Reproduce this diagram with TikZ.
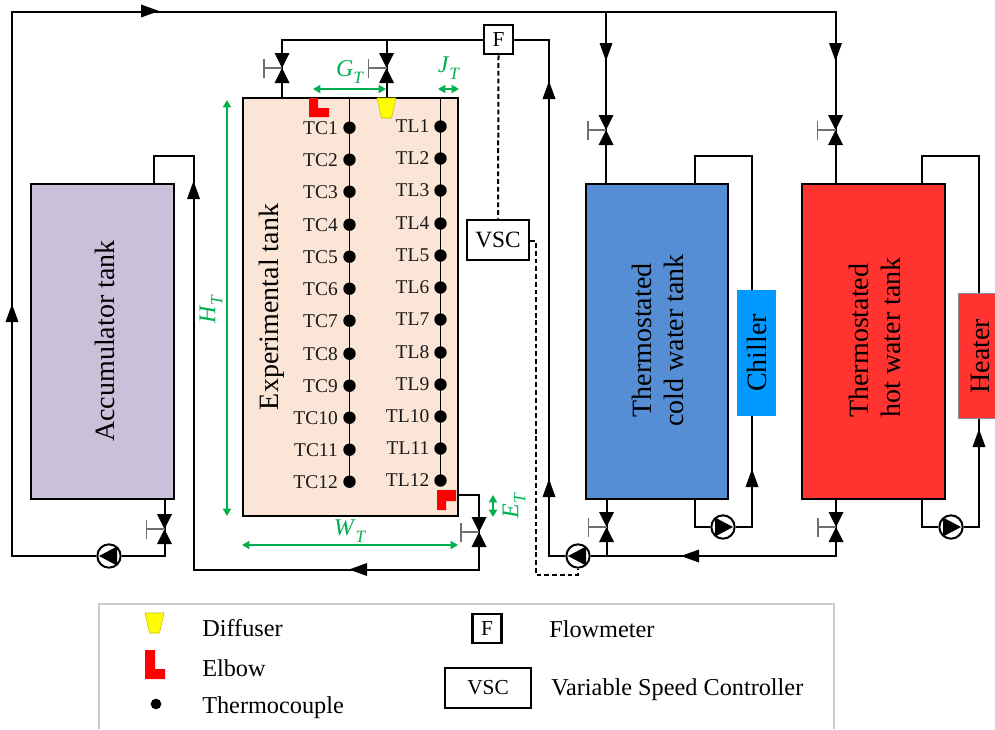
\documentclass[tikz,border=0pt]{standalone}
\usepackage{fontspec}
\setmainfont{Liberation Serif}
\usetikzlibrary{arrows.meta,backgrounds}
\definecolor{grn}{HTML}{00B050}
\definecolor{accf}{HTML}{CBC0DA}
\definecolor{expf}{HTML}{FBE5D6}
\definecolor{coldf}{HTML}{558ED5}
\definecolor{hotf}{HTML}{FF3330}
\definecolor{chilf}{HTML}{0099FF}
\definecolor{handle}{HTML}{707070}
\definecolor{elbowf}{HTML}{FF0000}
\definecolor{difff}{HTML}{FFFF00}
\newcommand{\subT}[1]{\textit{#1}\raisebox{-.3em}{\fontsize{.72em}{1em}\selectfont\textit{T}}}
\tikzset{
  x=.75pt,y=-.75pt,
  pipe/.style={draw=black,line width=1.5pt},
  tank/.style={draw=black,line width=2.1pt,inner sep=0pt,align=center,font=\fontsize{21}{24}\selectfont},
  unit/.style={draw=none,inner sep=0pt,font=\fontsize{21}{24}\selectfont},
  tanklab/.style={inner sep=0pt,rotate=90,font=\fontsize{21}{24}\selectfont},
  box/.style={draw=black,fill=white,line width=2.1pt,inner sep=0pt,font=\fontsize{16}{18}\selectfont},
  lab/.style={inner sep=0pt,font=\fontsize{14.6}{16}\selectfont,anchor=east,text=black!90},
  legtext/.style={inner sep=0pt,font=\fontsize{18.2}{20}\selectfont,anchor=base west},
  dim/.style={draw=grn,line width=1.3pt,{Triangle[width=6pt,length=5.5pt]}-{Triangle[width=6pt,length=5.5pt]}},
  dimtext/.style={inner sep=0pt,text=grn,font=\fontsize{18}{20}\selectfont},
  tdot/.style={circle,fill=black,minimum size=9.3pt,inner sep=0pt},
  pumpn/.style={circle,draw=black,fill=white,line width=1.5pt,minimum size=17.5pt,inner sep=0pt},
  ctrl/.style={draw=black,line width=1.5pt,dash pattern=on 3.6pt off 2.2pt},
  flow/.pic={\fill[black] (0,-9) -- (6.5,9) -- (-6.5,9) -- cycle;},
  pumptri/.pic={\fill[black] (-10,0) -- (8,-9.5) -- (8,9.5) -- cycle;},
  valve/.pic={
    \fill[black] (-7.5,-15) -- (7.5,-15) -- (0,0) -- cycle;
    \fill[black] (-7.5,15) -- (7.5,15) -- (0,0) -- cycle;
    \draw[handle,line width=.9pt] (0,0) -- (-18,0);
    \draw[handle,line width=.9pt] (-18,-9.5) -- (-18,9.5);
  },
  diffshape/.pic={\fill[difff,draw=black!25!difff,line width=.4pt] (-9.5,-10) -- (9.5,-10) -- (5,10) -- (-5,10) -- cycle;},
}
\begin{document}
\begin{tikzpicture}
\path[use as bounding box] (0,0) rectangle (995,729);
% tanks
\node[tank,fill=accf,minimum width=107.25pt,minimum height=236.25pt] (acc) at (102.5,341.5) {};
\node[tanklab] (acclab) at (105,341) {Accumulator tank};
\node[tank,fill=expf,minimum width=161.25pt,minimum height=313.5pt] (exp) at (350.5,307) {};
\node[tanklab] (explab) at (272,307) {Experimental tank};
\node[tank,fill=coldf,minimum width=106.5pt,minimum height=236.25pt] (cold) at (657,341.5) {};
\node[tanklab,align=center] (coldlab) at (658,340.5) {Thermostated\\cold water tank};
\node[tank,fill=hotf,minimum width=107.25pt,minimum height=236.25pt] (hot) at (873.5,341.5) {};
\node[tanklab,align=left] (hotlab) at (874.5,337.5) {Thermostated\\hot water tank};
\node[unit,fill=chilf,minimum width=29.25pt,minimum height=94.5pt] (chil) at (756.5,353) {\rotatebox{90}{Chiller}};
\path[fill=hotf,draw=black!45] (958,293) rectangle (996,418);
\node[tanklab] (heatlab) at (980,356) {Heater};
% boxes
\node[box,minimum size=21.75pt] (F) at (498.5,39.5) {F};
\node[box,minimum width=46.5pt,minimum height=30pt,font=\fontsize{17.5}{20}\selectfont] (VSC) at (498,240) {VSC};
% valves, as named points
\coordinate (vacc) at (164.5,529);
\coordinate (vexa) at (282,68);
\coordinate (vexb) at (386.5,68);
\coordinate (vexo) at (479,532);
\coordinate (vcin) at (606,130);
\coordinate (vcout) at (606.5,527);
\coordinate (vhin) at (835.5,130);
\coordinate (vhout) at (836,527);
% pumps
\node[pumpn] (pacc) at (109,556) {};
\node[pumpn] (pmain) at (578,556) {};
\node[pumpn] (pcold) at (723,527) {};
\node[pumpn] (phot) at (951,527) {};
% junction points
\coordinate (tl) at (12,12);
\coordinate (bl) at (12,556);
\coordinate (tr) at (835.5,12);
\coordinate (jc) at (606,12);
\coordinate (ret) at (549,556);
\coordinate (jret) at (193.5,569.5);
\coordinate (jtop) at (282,39.5);
\coordinate (dash) at (536,575);
\begin{pgfonlayer}{background}
  \draw[pipe] (vacc) |- (pacc) -- (bl) -- (tl) -- (tr) -- (vhin);
  \draw[pipe] (acc.south -| vacc) -- (vacc);
  \draw[pipe] (jc) -- (vcin) -- (cold.north -| vcin);
  \draw[pipe] (vhin) -- (hot.north -| vhin);
  \draw[pipe] (154,184) |- (193.5,156) -- (jret) -| (vexo);
  \draw[pipe] (vexo) -- (479,495) -- (exp.east |- 0,495);
  \draw[pipe] (exp.north -| vexa) -- (vexa) -- (jtop) -- (F.west);
  \draw[pipe] (exp.north -| vexb) -- (vexb) -- (386.5,39.5);
  \draw[pipe] (F.east) -- (549,39.5) -- (ret) -- (pmain.west);
  \draw[pipe] (pmain.east) -- (836,556) -- (vhout) -- (hot.south -| vhout);
  \draw[pipe] (606.5,556) -- (vcout) -- (cold.south -| vcout);
  \draw[pipe] (695,499) |- (pcold.west);
  \draw[pipe] (pcold.east) -- (752,527) -- (chil.south -| 752,0);
  \draw[pipe] (695,184) |- (752,156) -- (chil.north -| 752,0);
  \draw[pipe] (922,499) |- (phot.west);
  \draw[pipe] (phot.east) -- (979,527) -- (979,418);
  \draw[pipe] (922,184) |- (979,156) -- (979,293);
  \draw[ctrl] (F.south) -- (VSC.north);
  \draw[ctrl] (VSC.east |- 0,241) -- (536,241) -- (dash) -| (pmain.south);
\end{pgfonlayer}
% symbols
\pic at (vacc) {valve}; \pic at (vexa) {valve}; \pic at (vexb) {valve}; \pic at (vexo) {valve};
\pic at (vcin) {valve}; \pic at (vcout) {valve}; \pic at (vhin) {valve}; \pic at (vhout) {valve};
\pic at (pacc) {pumptri}; \pic at (pmain) {pumptri};
\pic[rotate=180] at (pcold) {pumptri}; \pic[rotate=180] at (phot) {pumptri};
\pic[rotate=-90] at (150,11) {flow};
\pic at (12,313) {flow};
\pic at (193.5,190) {flow};
\pic[rotate=90] at (358,569.5) {flow};
\pic at (549,90) {flow};
\pic at (549,488) {flow};
\pic[rotate=90] at (690,556) {flow};
\pic[rotate=180] at (606,52) {flow};
\pic[rotate=180] at (835.5,52) {flow};
\pic at (752,478) {flow};
\pic at (979,438) {flow};
% sensor lines
\draw[black,line width=.8pt] (349.5,98) -- (349.5,481);
\draw[black,line width=.8pt] (440.5,98) -- (440.5,481);
\foreach \n/\y in {1/127,2/159,3/191,4/224,5/256,6/288,7/320,8/353,9/385,10/417,11/449,12/481}{
  \node[tdot] (tc\n) at (349.5,\y+.7) {};
  \node[tdot] (tl\n) at (440.5,\y-.5) {};
  \node[lab] (tcl\n) at (338,\y+.7) {TC\n};
  \node[lab] (tll\n) at (429.5,\y-.5) {TL\n};
}
% elbows and diffuser
\fill[elbowf] (309,98) -- (318,98) -- (318,108) -- (329,108) -- (329,117) -- (309,117) -- cycle;
\fill[elbowf] (437,490) -- (456,490) -- (456,501) -- (446,501) -- (446,510) -- (437,510) -- cycle;
\pic at (386.5,108) {diffshape};
% dimensions
\coordinate (g1) at (313,89); \coordinate (g2) at (386,89);
\coordinate (j1) at (438,89); \coordinate (j2) at (459,89);
\coordinate (h1) at (227,100); \coordinate (h2) at (227,516);
\coordinate (w1) at (242,545); \coordinate (w2) at (458,545);
\coordinate (e1) at (493,495); \coordinate (e2) at (493,517);
\draw[dim] (g1) -- (g2);
\draw[dim] (j1) -- (j2);
\draw[dim] (h1) -- (h2);
\draw[dim] (w1) -- (w2);
\draw[dim] (e1) -- (e2);
\node[dimtext] (gt) at (350,72) {\subT{G}};
\node[dimtext] (jt) at (449,68) {\subT{J}};
\node[dimtext] (wt) at (350,531) {\subT{W}};
\node[dimtext,rotate=90] (ht) at (211,309) {\subT{H}};
\node[dimtext,rotate=90] (et) at (514,506) {\subT{E}};
% legend
\draw[black!20,line width=.9pt] (99,729) -- (99,604) -- (834,604) -- (834,729);
\pic at (154.5,623) {diffshape};
\fill[elbowf] (145,650) -- (155,650) -- (155,669) -- (165,669) -- (165,679) -- (145,679) -- cycle;
\node[tdot,minimum size=8pt] (legdot) at (156,704) {};
\node[legtext] (ld) at (202,636) {Diffuser};
\node[legtext] (le) at (202,676) {Elbow};
\node[legtext] (lt) at (202,713) {Thermocouple};
\node[box,minimum size=21.75pt,line width=1.6pt] (lF) at (487,628.5) {F};
\node[box,minimum width=64.5pt,minimum height=30pt,line width=1.8pt] (lV) at (488,688) {VSC};
\node[legtext] (lf) at (549,637) {Flowmeter};
\node[legtext] (lc) at (551,695) {Variable Speed Controller};
\end{tikzpicture}
\end{document}
